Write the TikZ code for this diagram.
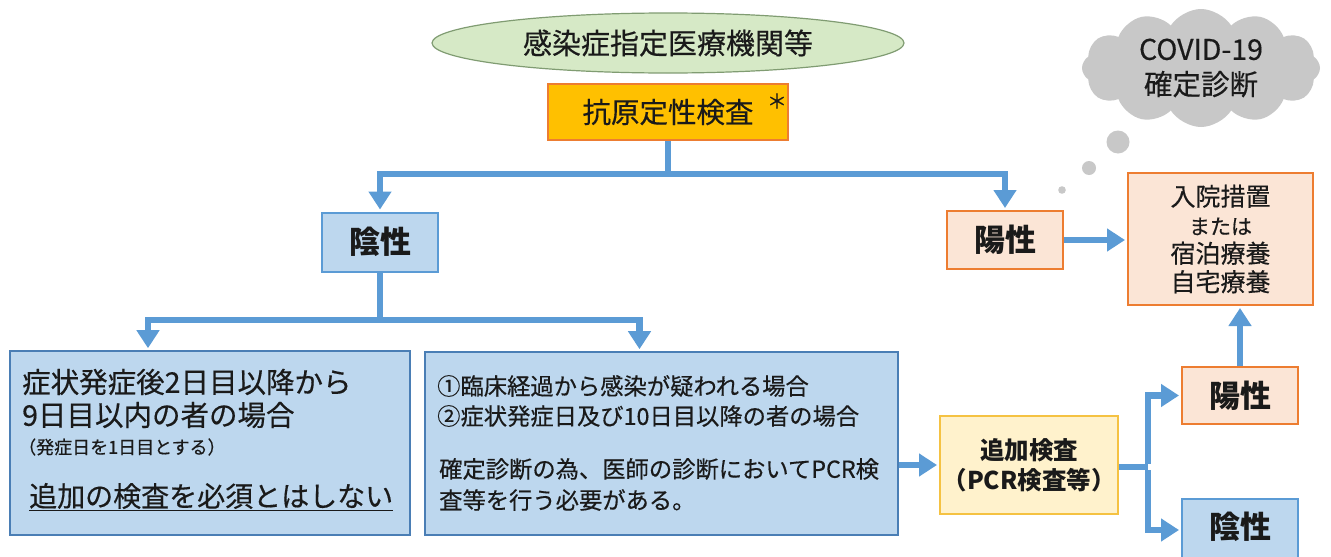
\documentclass[tikz,border=0pt]{standalone}
\usepackage{fontspec}
\setmainfont{Noto Sans CJK JP}[UprightFeatures={FakeBold=0.4}]
\usetikzlibrary{arrows.meta,shapes.geometric,shapes.symbols}
\definecolor{lineblue}{HTML}{5B9BD5}
\definecolor{boxblue}{HTML}{BDD7EE}
\definecolor{edgeblue}{HTML}{4A7EB5}
\definecolor{pinkfill}{HTML}{FBE5D6}
\definecolor{orangeedge}{HTML}{ED7D31}
\definecolor{orangefill}{HTML}{FFC000}
\definecolor{yellowfill}{HTML}{FFF2CC}
\definecolor{goldedge}{HTML}{F5C242}
\definecolor{greenfill}{HTML}{D6E9C6}
\definecolor{greenedge}{HTML}{809C72}
\definecolor{cloudgray}{HTML}{C8C8C8}
\definecolor{ink}{HTML}{1A1A1A}
\tikzset{
  conn/.style={draw=lineblue, line width=6.5pt},
  arr/.style={conn, -{Triangle[width=22pt,length=18pt]}, shorten >=2pt},
  bluebox/.style={draw=edgeblue, line width=1.6pt, fill=boxblue, inner sep=0pt},
  smallblue/.style={draw=lineblue, line width=2pt, fill=boxblue, minimum width=116pt, minimum height=59pt, inner sep=0pt, text=ink, font=\fontsize{31}{33}\selectfont\bfseries},
  pinkbox/.style={draw=orangeedge, line width=2pt, fill=pinkfill, inner sep=0pt, text=ink},
  txt/.style={inner sep=0pt, text=ink},
}
\begin{document}
\begin{tikzpicture}[x=1pt,y=-1pt]
\fill[white] (0,0) rectangle (1331,557);
\useasboundingbox (0,0) rectangle (1331,557);

% top
\node[ellipse, draw=greenedge, line width=1.2pt, fill=greenfill, minimum width=472pt, minimum height=60pt, inner sep=0pt, text=ink, font=\fontsize{29}{31}\selectfont] (ell) at (668,43) {感染症指定医療機関等};
\node[draw=orangeedge, line width=1.5pt, fill=orangefill, minimum width=240pt, minimum height=56pt, inner sep=0pt, text=ink, font=\fontsize{28.5}{30}\selectfont] (ag) at (668,112) {抗原定性検査};
\node[txt, font=\fontsize{20}{22}\selectfont] (ast) at (777,101) {＊};

% cloud
\node[cloud, cloud puffs=12, cloud puff arc=115, aspect=2.1, fill=cloudgray, minimum width=238pt, minimum height=118pt, inner sep=0pt, align=center, text=ink, font=\fontsize{28.5}{35}\selectfont] (cl) at (1201,68) {COVID-19\\確定診断};
\fill[cloudgray] (1118,142) circle (11.5);
\fill[cloudgray] (1089,168) circle (7);
\fill[cloudgray] (1062,190) circle (3.8);

% first level
\node[smallblue] (neg1) at (380,242) {陰性};
\node[pinkbox, minimum width=116pt, minimum height=58pt, font=\fontsize{31}{33}\selectfont\bfseries] (pos1) at (1005,240) {陽性};
\node[pinkbox, minimum width=185pt, minimum height=132pt, align=center, font=\fontsize{25}{28.5}\selectfont] (hosp) at (1220.5,239) {入院措置\\{\fontsize{21}{28.5}\selectfont または}\\宿泊療養\\自宅療養};

% bottom boxes
\node[bluebox, minimum width=400pt, minimum height=184pt] (lb) at (210,443) {};
\node[txt, anchor=west, font=\fontsize{28.5}{30}\selectfont] (lb1) at (22,382) {症状発症後2日目以降から};
\node[txt, anchor=west, font=\fontsize{28.5}{30}\selectfont] (lb2) at (22,415) {9日目以内の者の場合};
\node[txt, anchor=west, font=\fontsize{18}{20}\selectfont] (lb3) at (18,447) {（発症日を1日目とする）};
\node[txt, anchor=west, font=\fontsize{28}{30}\selectfont] (lb4) at (29,497) {\underline{追加の検査を必須とはしない}};

\node[bluebox, minimum width=473pt, minimum height=183pt] (mb) at (661.5,443.5) {};
\node[txt, anchor=west, font=\fontsize{23.3}{25}\selectfont] (mb1) at (437,386) {①臨床経過から感染が疑われる場合};
\node[txt, anchor=west, font=\fontsize{23.3}{25}\selectfont] (mb2) at (437,416) {②症状発症日及び10日目以降の者の場合};
\node[txt, anchor=west, font=\fontsize{23.3}{25}\selectfont] (mb3) at (439,469) {確定診断の為、医師の診断においてPCR検};
\node[txt, anchor=west, font=\fontsize{23.3}{25}\selectfont] (mb4) at (439,500) {査等を行う必要がある。};

\node[draw=goldedge, line width=2pt, fill=yellowfill, minimum width=178pt, minimum height=98pt, inner sep=0pt, align=center, text=ink, font=\fontsize{24.5}{30}\selectfont\bfseries] (add) at (1029,465) {追加検査\\（PCR検査等）};

\node[pinkbox, minimum width=116pt, minimum height=57pt, font=\fontsize{31}{33}\selectfont\bfseries] (pos2) at (1240,395.5) {陽性};
\node[smallblue, minimum height=62pt] (neg2) at (1240,530) {};
\node[txt, font=\fontsize{31}{33}\selectfont\bfseries] (neg2t) at (1240,527) {陰性};

% connectors
\coordinate (j1) at (668,174);
\coordinate (j2) at (380,320);
\coordinate (j3) at (1148,467);
\draw[conn] (ag.south) -- (j1);
\draw[arr] ([xshift=3.25pt]j1) -| (neg1.north);
\draw[arr] ([xshift=-3.25pt]j1) -| (pos1.north);
\draw[arr] (pos1.east) -- (pos1.east -| hosp.west);
\draw[conn] (neg1.south) -- (j2);
\draw[arr] ([xshift=3.25pt]j2) -| ([xshift=-62pt]lb.north);
\draw[arr] ([xshift=-3.25pt]j2) -| ([xshift=-22pt]mb.north);
\draw[arr] (mb.east |- add.west) -- (add.west);
\draw[conn] (add.east |- j3) -- (j3);
\draw[arr] ([yshift=3.25pt]j3) |- (pos2.west);
\draw[arr] ([yshift=-3.25pt]j3) |- (neg2.west);
\draw[arr] (pos2.north) -- (pos2.north |- hosp.south);
\end{tikzpicture}
\end{document}
